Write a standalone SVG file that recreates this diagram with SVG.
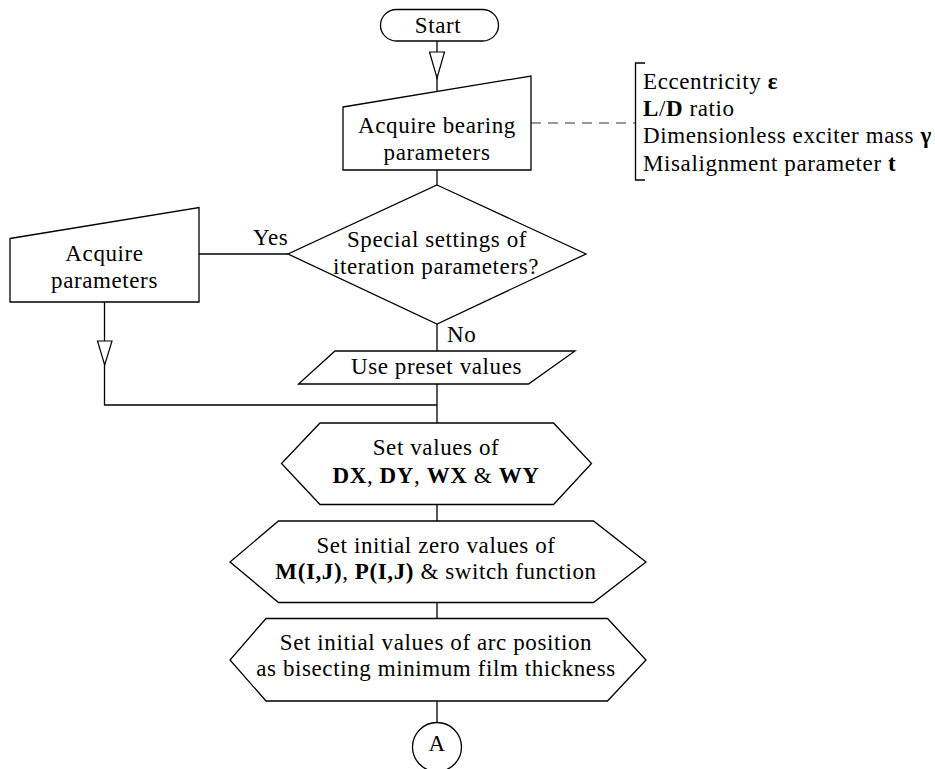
<svg xmlns="http://www.w3.org/2000/svg" width="935" height="769" viewBox="0 0 935 769">
<style>
.s{fill:#fff;stroke:#000;stroke-width:1.3}
.c{fill:none;stroke:#000;stroke-width:1.3}
.d{fill:none;stroke:#777;stroke-width:1.3;stroke-dasharray:10 7}
.ah{fill:#fff;stroke:#000;stroke-width:1.2}
.t{font-family:'Liberation Serif',serif;font-size:23px;letter-spacing:0.6px;fill:#000}
.m{text-anchor:middle}
.b{font-weight:bold}
</style>
<rect width="935" height="769" fill="#fff"/>
<g class="t">
<g id="connectors">
<line class="c" x1="437" y1="41" x2="437" y2="91"/>
<polygon class="ah" points="429.5,52 444.5,52 437,78"/>
<line class="c" x1="437" y1="170" x2="437" y2="185"/>
<line class="d" x1="531" y1="123" x2="635" y2="123"/>
<line class="c" x1="288" y1="254" x2="199" y2="254"/>
<line class="c" x1="437" y1="324" x2="437" y2="351"/>
<polyline class="c" points="104.5,302 104.5,405 437,405"/>
<polygon class="ah" points="97.5,341 112,341 104.7,365"/>
<line class="c" x1="437" y1="384" x2="437" y2="423"/>
<line class="c" x1="437" y1="504" x2="437" y2="521"/>
<line class="c" x1="437" y1="602" x2="437" y2="618"/>
<line class="c" x1="437" y1="701" x2="437" y2="723"/>
<text x="253" y="245">Yes</text>
<text x="447" y="342">No</text>
</g>
<g id="start">
<rect class="s" x="380.5" y="9.5" width="118" height="31.5" rx="16"/>
<text class="m" x="438" y="33">Start</text>
</g>
<g id="bearing">
<polygon class="s" points="343,107 531,76 531,170 343,170"/>
<text class="m" x="437" y="133">Acquire bearing</text>
<text class="m" x="437" y="159.5">parameters</text>
</g>
<g id="annotation">
<polyline class="c" points="645,63 635.5,63 635.5,180 645,180"/>
<text x="643" y="89">Eccentricity <tspan class="b">ε</tspan></text>
<text x="643" y="116"><tspan class="b">L</tspan>/<tspan class="b">D</tspan> ratio</text>
<text x="643" y="143">Dimensionless exciter mass <tspan class="b">γ</tspan></text>
<text x="643" y="170.5">Misalignment parameter <tspan class="b">t</tspan></text>
</g>
<g id="decision">
<polygon class="s" points="437,185 586,254 437,324 288,254"/>
<text class="m" x="437" y="247">Special settings of</text>
<text class="m" x="436" y="273.5">iteration parameters?</text>
</g>
<g id="acquire">
<polygon class="s" points="10,238.5 199,207.5 199,302 10,302"/>
<text class="m" x="104.5" y="261">Acquire</text>
<text class="m" x="104.5" y="287.5">parameters</text>
</g>
<g id="preset">
<polygon class="s" points="335,351 575,351 528.5,384 298.5,384"/>
<text class="m" x="436.5" y="373.5">Use preset values</text>
</g>
<g id="setvalues">
<polygon class="s" points="320,423 553.5,423 591.5,463.5 553.5,504.5 320,504.5 281.5,463.5"/>
<text class="m" x="436" y="455">Set values of</text>
<text class="m" x="436" y="482.5"><tspan class="b">DX</tspan>, <tspan class="b">DY</tspan>, <tspan class="b">WX</tspan> &amp; <tspan class="b">WY</tspan></text>
</g>
<g id="zerovalues">
<polygon class="s" points="278.5,521 593.5,521 646,562 593.5,602.5 278.5,602.5 230,562"/>
<text class="m" x="436" y="552.5">Set initial zero values of</text>
<text class="m" x="436" y="579"><tspan class="b">M(I,J)</tspan>, <tspan class="b">P(I,J)</tspan> &amp; switch function</text>
</g>
<g id="arcposition">
<polygon class="s" points="266,618.5 607.5,618.5 646,660 607.5,701 266,701 230,660"/>
<text class="m" x="436" y="649.5">Set initial values of arc position</text>
<text class="m" x="436" y="676">as bisecting minimum film thickness</text>
</g>
<g id="connectorA">
<circle class="s" cx="437" cy="747" r="24.5"/>
<text class="m" x="437" y="751">A</text>
</g>
</g>
</svg>
